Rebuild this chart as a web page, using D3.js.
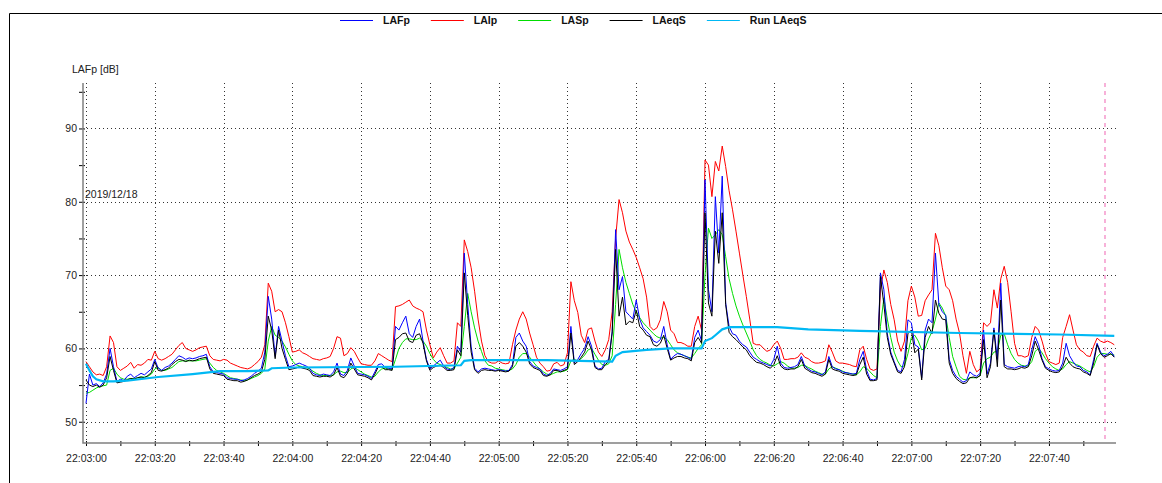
<!DOCTYPE html>
<html>
<meta charset="utf-8" />
<style>
  body { margin: 0; background: #fff; }
  text { font-family: "Liberation Sans", Arial, sans-serif; }
</style>
<svg width="1162" height="483"></svg>
<script src="https://d3js.org/d3.v7.min.js"></script>
<script>
// one value per second, starting 22:03:00
var lafp = [
  52.5, 56.5, 55.0, 55.2, 54.8, 55.3, 56.5, 60.0, 57.5, 55.5,
  55.8, 55.6, 56.2, 56.5, 56.0, 56.3, 56.6, 56.4, 56.8, 57.2,
  58.5, 57.3, 57.0, 57.4, 57.6, 58.0, 58.5, 59.0, 58.8, 58.5,
  58.7, 58.6, 58.7, 58.9, 59.0, 59.2, 57.5, 56.8, 56.7, 56.6,
  56.5, 56.0, 55.9, 55.8, 55.8, 55.6, 55.7, 55.9, 56.2, 56.6,
  56.9, 57.3, 59.5, 67.1, 64.0, 58.9, 63.0, 61.0, 59.0, 57.5,
  57.6, 57.8, 58.0, 57.8, 57.6, 57.3, 56.6, 56.4, 56.3, 56.5,
  56.4, 56.3, 56.8, 58.0, 56.5, 56.3, 57.0, 58.7, 57.6, 56.6,
  56.5, 56.4, 56.2, 55.9, 56.8, 57.8, 57.9, 57.4, 57.3, 57.2,
  63.0, 62.5, 63.5, 64.4, 62.0, 61.5, 63.0, 64.0, 61.0, 58.5,
  57.2, 57.6, 58.0, 58.4, 57.6, 57.2, 57.1, 57.4, 60.3, 59.5,
  73.0, 66.0, 60.2, 57.3, 56.8, 57.2, 57.3, 57.2, 57.1, 57.0,
  57.1, 57.0, 56.9, 57.0, 57.8, 61.5, 62.1, 61.0, 60.3, 58.2,
  57.6, 57.4, 57.2, 56.5, 56.3, 56.6, 57.2, 57.1, 57.0, 57.2,
  57.5, 63.0, 58.0, 58.5, 59.3, 60.0, 61.6, 60.3, 57.6, 57.2,
  57.3, 58.2, 58.5, 62.3, 76.2, 68.0, 69.8, 65.0, 64.5, 64.0,
  66.6, 64.0, 62.8, 62.3, 61.8, 61.0, 60.8, 61.2, 63.0, 60.5,
  58.5, 59.0, 59.3, 59.2, 59.0, 58.8, 58.5, 61.5, 62.5, 61.0,
  83.0, 68.0, 65.0, 80.7, 73.0, 83.5, 66.2, 63.0, 62.0, 61.8,
  61.0, 60.5, 60.2, 59.5, 58.8, 58.5, 58.2, 58.0, 57.8, 57.6,
  58.5, 60.3, 58.0, 57.4, 57.3, 57.4, 57.5, 57.8, 58.9, 57.6,
  57.2, 56.9, 56.8, 56.6, 56.4, 56.8, 58.9, 57.5, 57.2, 57.1,
  56.8, 56.7, 56.6, 56.5, 56.6, 58.5, 59.6, 57.0, 55.8, 55.7,
  55.9, 70.3, 68.0, 62.0, 59.5, 58.2, 57.0, 56.8, 58.5, 63.9,
  63.5, 60.5, 60.2, 56.0, 62.5, 64.0, 63.5, 73.0, 66.0, 65.0,
  64.5, 58.5, 57.0, 56.2, 55.8, 55.4, 55.6, 56.8, 56.4, 56.2,
  56.6, 62.5, 56.5, 58.0, 62.8, 58.5, 68.9, 57.8, 57.5, 57.4,
  57.3, 57.5, 57.6, 57.5, 57.8, 59.8, 61.6, 60.5, 58.6, 57.5,
  57.2, 57.0, 56.9, 57.0, 58.0, 60.7, 59.0, 58.2, 57.6, 57.5,
  57.0, 56.8, 56.4, 58.5, 60.7, 59.5, 59.0, 59.2, 59.6, 58.9
];

var laip = [
  58.2, 57.5, 56.8, 56.4, 56.5, 56.3, 57.5, 61.7, 60.8, 57.5,
  57.0, 57.3, 57.6, 58.1, 57.3, 57.8, 57.7, 58.0, 58.5, 58.4,
  59.6, 58.6, 58.4, 58.6, 58.9, 59.2, 59.8, 60.4, 60.8, 60.0,
  59.8, 59.6, 59.8, 60.1, 60.2, 60.3, 59.0, 58.5, 58.4, 58.3,
  58.5, 58.4, 58.0, 57.8, 57.6, 57.4, 57.3, 57.2, 57.4, 57.8,
  58.2, 58.8, 60.5, 68.9, 67.8, 65.0, 65.3, 65.0, 63.5, 61.6,
  59.5, 59.6, 59.8, 59.4, 59.2, 58.9, 58.6, 58.5, 58.4, 58.6,
  58.7, 58.9, 60.0, 61.6, 61.4, 59.0, 59.3, 60.1, 59.6, 58.7,
  57.9, 57.8, 57.7, 57.7, 58.3, 59.3, 59.0, 58.7, 58.4, 58.2,
  65.7, 65.8, 66.0, 66.3, 66.6, 65.8, 65.5, 65.3, 65.0, 62.5,
  60.5, 58.7, 59.5, 60.1, 59.0, 58.0, 58.0, 58.3, 63.5, 63.0,
  74.8, 73.2, 71.0, 67.8, 64.0, 61.0, 59.0, 58.2, 58.0, 58.0,
  58.3, 58.0, 57.9, 58.0, 60.5, 62.5, 64.0, 65.0, 64.0, 62.1,
  60.5, 58.8, 58.0, 57.5, 56.9, 57.0, 57.9, 58.1, 57.6, 57.8,
  59.4, 69.1, 66.5, 64.9, 61.8, 60.8, 62.6, 62.8, 61.0, 59.5,
  58.9, 59.8, 61.2, 65.0, 75.0, 80.3, 78.5, 76.0, 74.5, 73.5,
  72.4, 71.0, 69.5, 67.0, 63.0, 62.5, 62.8, 63.9, 66.4, 65.0,
  62.5, 62.0, 60.8, 60.8, 60.6, 60.3, 60.3, 63.0, 64.4, 62.5,
  85.7, 85.0, 80.7, 85.5, 84.2, 87.6, 84.8, 81.5, 78.9, 76.0,
  73.0, 70.0, 67.1, 64.0, 60.7, 60.5, 60.5, 60.0, 59.6, 59.8,
  60.5, 61.0, 60.0, 58.5, 58.5, 58.6, 58.6, 58.8, 59.4, 58.8,
  58.6, 58.2, 58.0, 58.0, 58.1, 58.3, 60.5, 59.5, 58.3, 58.0,
  58.0, 57.9, 57.8, 57.6, 57.5, 59.8, 60.3, 58.5, 57.2, 57.0,
  57.2, 68.0, 70.7, 69.0, 66.0, 63.9, 61.0, 59.6, 61.0, 66.5,
  68.5, 67.0, 64.4, 64.5, 66.5, 67.3, 68.0, 75.7, 74.0, 71.0,
  68.5, 68.0, 66.5, 64.0, 62.1, 59.0, 56.6, 59.6, 57.8, 56.8,
  57.2, 63.5, 63.0, 63.5, 68.0, 65.5, 69.5, 71.2, 69.0, 65.0,
  60.7, 59.0, 59.0, 58.8, 59.0, 61.5, 63.0, 62.5, 61.0, 59.3,
  58.2, 58.0, 57.8, 58.0, 61.5, 63.0, 64.6, 62.5, 60.5, 59.8,
  59.5, 59.0, 58.9, 60.3, 61.4, 61.0, 60.8, 61.0, 60.8, 60.5
];

var lasp = [
  53.9, 54.0, 54.3, 54.6, 54.8, 54.9, 55.0, 57.0, 57.3, 56.5,
  56.0, 55.8, 55.8, 55.9, 55.9, 56.0, 56.1, 56.1, 56.2, 56.5,
  57.2, 57.4, 57.0, 57.0, 57.2, 57.4, 57.8, 58.2, 58.3, 58.3,
  58.3, 58.3, 58.3, 58.4, 58.5, 58.6, 58.0, 57.4, 57.0, 56.8,
  56.6, 56.3, 56.0, 55.9, 55.8, 55.7, 55.6, 55.7, 55.9, 56.1,
  56.3, 56.6, 57.2, 61.0, 63.0, 61.8, 61.5, 61.0, 60.2, 59.2,
  58.3, 57.8, 57.6, 57.5, 57.4, 57.2, 56.9, 56.6, 56.4, 56.3,
  56.3, 56.3, 56.4, 56.8, 56.9, 56.7, 56.7, 57.2, 57.4, 57.1,
  56.8, 56.5, 56.3, 56.1, 56.2, 56.8, 57.2, 57.3, 57.2, 57.1,
  58.5, 60.0, 60.8, 61.3, 61.3, 61.2, 61.2, 61.4, 61.0, 60.3,
  59.3, 58.5, 58.0, 57.8, 57.6, 57.4, 57.2, 57.2, 58.0, 58.8,
  63.0, 67.5, 65.0, 62.8, 61.0, 59.6, 58.3, 57.7, 57.6, 57.3,
  57.2, 57.1, 57.0, 57.0, 57.2, 57.8, 58.8, 59.3, 59.3, 58.8,
  58.2, 57.6, 57.2, 56.8, 56.5, 56.4, 56.6, 56.8, 56.8, 56.9,
  57.1, 58.3, 58.5, 58.3, 58.6, 59.1, 59.8, 60.0, 59.2, 58.4,
  57.8, 57.7, 57.9, 59.0, 66.0, 73.5, 71.0, 69.0, 67.5, 66.0,
  65.0, 64.2, 63.5, 63.0, 62.5, 62.0, 61.6, 61.4, 61.5, 61.2,
  60.5, 59.8, 59.4, 59.2, 59.0, 58.8, 58.7, 59.3, 60.0, 60.5,
  70.0, 76.4, 75.0, 75.5, 76.2, 75.5, 72.5, 69.5, 67.5, 65.8,
  64.4, 63.2, 62.1, 61.0, 59.8, 59.0, 58.5, 58.2, 58.0, 57.7,
  57.6, 57.9, 58.2, 58.0, 57.6, 57.3, 57.3, 57.4, 57.7, 57.7,
  57.4, 57.2, 56.9, 56.7, 56.5, 56.5, 57.2, 57.5, 57.3, 57.1,
  56.9, 56.7, 56.6, 56.5, 56.4, 56.8, 57.5, 57.3, 56.8, 56.3,
  56.0, 63.0, 66.9, 64.0, 61.5, 59.5, 58.3, 57.5, 57.6, 59.3,
  61.5, 61.8, 61.0, 59.8, 60.0, 61.3, 62.3, 64.0, 66.2, 65.5,
  64.4, 61.5, 58.9, 57.5, 56.2, 55.8, 55.7, 56.0, 56.0, 56.0,
  56.3, 58.0, 58.6, 58.8, 59.5, 59.6, 61.8, 62.0, 60.5, 59.3,
  58.5, 58.0, 57.7, 57.6, 57.6, 58.2, 59.6, 60.0, 59.4, 58.6,
  58.0, 57.5, 57.2, 57.0, 57.2, 57.8, 58.2, 58.0, 57.8, 57.6,
  57.3, 57.0, 56.8, 57.5, 58.8, 59.3, 59.3, 59.2, 59.2, 59.1
];

var laeqs = [
  55.7, 55.0, 54.8, 55.0, 54.7, 55.0, 56.0, 58.9, 57.0, 55.3,
  55.4, 55.5, 55.7, 55.9, 55.8, 56.0, 56.1, 56.0, 56.3, 56.7,
  58.2, 57.0, 56.9, 57.1, 57.3, 57.8, 58.2, 58.5, 58.4, 58.2,
  58.4, 58.3, 58.4, 58.6, 58.7, 58.8, 57.2, 56.6, 56.5, 56.4,
  56.3, 55.8, 55.7, 55.6, 55.6, 55.4, 55.5, 55.7, 56.0, 56.3,
  56.5, 56.8, 58.5, 64.4, 62.5, 58.6, 62.5, 60.0, 58.5, 57.1,
  57.2, 57.3, 57.5, 57.3, 57.2, 57.0, 56.3, 56.2, 56.1, 56.2,
  56.2, 56.1, 56.4, 57.4, 56.2, 56.0, 56.6, 58.0, 57.2, 56.4,
  56.3, 56.2, 56.0, 55.7, 56.5, 57.5, 57.5, 57.1, 57.1, 57.0,
  61.2, 61.5, 62.0, 62.1, 61.0, 60.8, 61.8, 62.0, 60.7, 58.3,
  57.0, 57.4, 57.6, 57.7, 57.4, 57.0, 57.0, 57.1, 59.8, 59.0,
  70.3, 64.5, 59.5, 57.1, 56.6, 57.0, 57.1, 57.0, 57.0, 56.9,
  57.0, 56.9, 56.8, 56.9, 57.5, 60.3, 60.8, 60.3, 59.5, 57.9,
  57.4, 57.2, 57.0, 56.3, 56.2, 56.4, 57.0, 57.0, 56.8, 57.0,
  57.2, 62.1, 57.8, 58.2, 58.8, 59.5, 61.0, 59.8, 57.4, 57.1,
  57.1, 57.8, 58.2, 62.1, 73.5, 64.4, 67.0, 63.2, 63.7, 63.5,
  65.2, 63.0, 62.5, 61.8, 61.6, 60.5, 60.3, 60.7, 61.8, 60.0,
  58.4, 58.7, 58.9, 58.9, 58.7, 58.6, 58.3, 60.8, 61.5, 60.7,
  78.5, 66.2, 64.4, 76.0, 71.6, 78.5, 66.0, 62.2, 61.6, 61.2,
  60.7, 60.2, 59.8, 59.0, 58.5, 58.1, 58.0, 57.8, 57.5, 57.3,
  57.8, 59.0, 57.6, 57.2, 57.1, 57.2, 57.2, 57.5, 58.5, 57.3,
  57.0, 56.7, 56.6, 56.4, 56.2, 56.5, 58.5, 57.2, 57.0, 56.9,
  56.6, 56.5, 56.4, 56.3, 56.4, 57.8, 58.8, 56.5, 55.6, 55.6,
  55.7, 69.8, 66.0, 61.5, 59.2, 58.0, 56.8, 56.6, 57.5, 62.0,
  62.5, 59.4, 59.9, 55.7, 61.5, 63.0, 62.0, 66.6, 64.8, 64.0,
  63.9, 58.0, 56.6, 55.9, 55.5, 55.2, 55.3, 56.0, 56.1, 56.0,
  56.3, 61.2, 56.0, 57.5, 62.5, 57.5, 66.6, 57.5, 57.2, 57.2,
  57.1, 57.2, 57.4, 57.3, 57.5, 59.0, 61.0, 59.8, 58.4, 57.3,
  57.0, 56.8, 56.7, 56.8, 57.5, 58.8, 58.0, 57.5, 57.3, 57.2,
  56.8, 56.6, 56.3, 58.0, 60.5, 59.3, 58.8, 59.0, 59.3, 58.8
];

// running Leq, read at its break points (seconds, dB)
var runT = [0, 1, 2, 3, 5, 8, 12, 21, 31, 39, 47, 53, 54, 60, 90, 109, 110, 112, 134, 153,
            154, 156, 163, 170, 179, 180, 182, 183, 185, 187, 201, 210, 225, 254, 283, 299];
var runV = [57.9, 57.0, 56.2, 55.8, 55.5, 55.5, 55.6, 56.1, 56.5, 56.9, 56.9, 57.0, 57.3, 57.4, 57.5, 57.7, 58.3, 58.4, 58.4, 58.2,
            59.0, 59.5, 59.8, 60.0, 60.0, 61.0, 61.4, 61.8, 62.6, 62.9, 62.9, 62.6, 62.4, 62.1, 61.9, 61.7];

var seriesNames = ["LAFp", "LAIp", "LASp", "LAeqS", "Run LAeqS"];
var seriesColors = ["#0000ff", "#ff0000", "#00dd00", "#000000", "#00b8f4"];
var yTicks = [50, 55, 60, 65, 70, 75, 80, 85, 90, 95];
var yLabels = [50, 60, 70, 80, 90];
var xTicks = d3.range(0, 300, 10);
var xLabels = d3.range(0, 300, 20);
var startClock = [22, 3, 0];
var dateLabel = "2019/12/18";
var yTitle = "LAFp [dB]";
var cursorT = 296.3;

var svg = d3.select("svg");

var x = d3.scaleLinear().domain([-0.87, 299.5]).range([83, 1116]);
var y = d3.scaleLinear().domain([47.1, 96.2]).range([443, 83]);

function clock(s) {
  var tot = startClock[0] * 3600 + startClock[1] * 60 + startClock[2] + s;
  var p = function(n) { return (n < 10 ? "0" : "") + n; };
  return p(Math.floor(tot / 3600)) + ":" + p(Math.floor(tot / 60) % 60) + ":" + p(tot % 60);
}

// frame
svg.append("path")
  .attr("d", "M9.5,483V13.5H1162")
  .attr("fill", "none")
  .attr("stroke", "#000");

// grid
var grid = svg.append("g")
  .attr("stroke", "#333")
  .attr("stroke-dasharray", "1,3")
  .attr("shape-rendering", "crispEdges");
grid.selectAll(".gx").data(xLabels).enter().append("line")
  .attr("x1", function(d) { return Math.round(x(d)) + 0.5; })
  .attr("x2", function(d) { return Math.round(x(d)) + 0.5; })
  .attr("y1", y.range()[1]).attr("y2", y.range()[0]);
grid.selectAll(".gy").data(yLabels).enter().append("line")
  .attr("x1", x.range()[0]).attr("x2", x.range()[1])
  .attr("y1", function(d) { return Math.round(y(d)) + 0.5; })
  .attr("y2", function(d) { return Math.round(y(d)) + 0.5; });

// cursor
svg.append("line")
  .attr("x1", x(cursorT)).attr("x2", x(cursorT))
  .attr("y1", y.range()[1]).attr("y2", y.range()[0])
  .attr("stroke", "#f27fbf")
  .attr("stroke-width", 1.2)
  .attr("stroke-dasharray", "4,4");

// lines
var line = d3.line()
  .x(function(d, i) { return x(i); })
  .y(function(d) { return y(d); });

var drawOrder = [[laip, 1], [lasp, 2], [lafp, 0], [laeqs, 3]];
drawOrder.forEach(function(s) {
  svg.append("path")
    .datum(s[0])
    .attr("fill", "none")
    .attr("stroke", seriesColors[s[1]])
    .attr("stroke-width", 1)
    .attr("stroke-linejoin", "round")
    .attr("d", line);
});

svg.append("path")
  .datum(d3.zip(runT, runV))
  .attr("fill", "none")
  .attr("stroke", seriesColors[4])
  .attr("stroke-width", 2.2)
  .attr("d", d3.line()
    .x(function(d) { return x(d[0]); })
    .y(function(d) { return y(d[1]); }));

// axes
var xAxis = svg.append("g")
  .attr("transform", "translate(0,441)")
  .call(d3.axisBottom(x)
    .tickValues(xTicks)
    .tickSize(5)
    .tickPadding(9)
    .tickFormat(function(d) { return d % 20 ? "" : clock(d); }));
xAxis.select(".domain").remove();
xAxis.selectAll("text").attr("font-size", 10.5).attr("fill", "#222")
  .attr("font-family", "Liberation Sans, Arial, sans-serif");

var yAxis = svg.append("g")
  .attr("transform", "translate(85,0)")
  .call(d3.axisLeft(y)
    .tickValues(yTicks)
    .tickSize(6)
    .tickPadding(2)
    .tickFormat(function(d) { return d % 10 ? "" : d; }));
yAxis.select(".domain").remove();
yAxis.selectAll("text").attr("font-size", 10.5).attr("fill", "#222")
  .attr("font-family", "Liberation Sans, Arial, sans-serif");

svg.append("path")
  .attr("d", "M83," + y.range()[1] + "V443H" + x.range()[1])
  .attr("fill", "none")
  .attr("stroke", "#808080")
  .attr("stroke-width", 1.5);

svg.append("text")
  .attr("x", 72).attr("y", 73)
  .attr("font-size", 10.5).attr("fill", "#222")
  .text(yTitle);

svg.append("text")
  .attr("x", 85).attr("y", 198)
  .attr("font-size", 10.5).attr("fill", "#222")
  .text(dateLabel);

// legend
var lx = 340;
seriesNames.forEach(function(name, i) {
  svg.append("line")
    .attr("x1", lx).attr("x2", lx + 33)
    .attr("y1", 20.5).attr("y2", 20.5)
    .attr("stroke", seriesColors[i]);
  var t = svg.append("text")
    .attr("x", lx + 43).attr("y", 24)
    .attr("font-size", 10.5).attr("font-weight", "bold")
    .attr("fill", "#111")
    .text(name);
  lx += 43 + t.node().getComputedTextLength() + 21;
});
</script>
</html>
